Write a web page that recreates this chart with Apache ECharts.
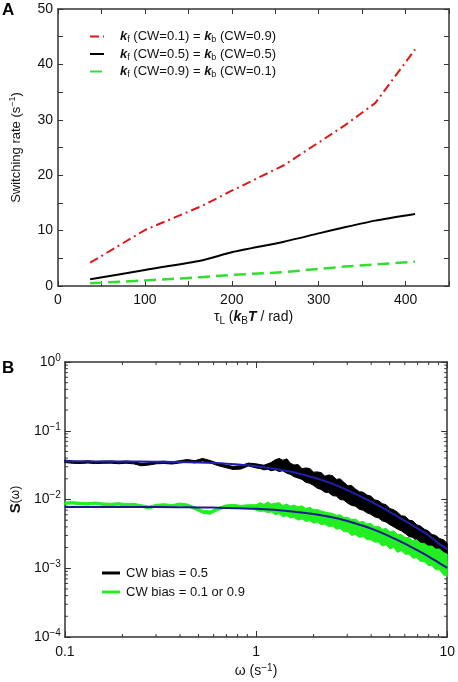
<!DOCTYPE html>
<html><head><meta charset="utf-8">
<script src="https://cdn.jsdelivr.net/npm/echarts@6/dist/echarts.min.js"></script>
<style>html,body{margin:0;padding:0;background:#fff}#c{width:458px;height:682px}</style>
</head><body><div id="c"></div>
<script>
// ---------- Panel A data ----------
const tauL = [37, 100, 165, 200, 260, 300, 330, 365, 411];
const rateRed = [4.2, 10.1, 14.4, 17.2, 21.8, 25.9, 29.0, 33.0, 42.7];
const rateBlack = [1.2, 2.9, 4.6, 6.1, 8.0, 9.5, 10.6, 11.8, 13.0];
const rateGreen = [0.5, 1.0, 1.6, 2.0, 2.5, 3.1, 3.5, 3.9, 4.4];
const namesA = ['kf (CW=0.1) = kb (CW=0.9)', 'kf (CW=0.5) = kb (CW=0.5)', 'kf (CW=0.9) = kb (CW=0.1)'];
const richNamesA = [
  '{bi|k}{sub|f}{n| (CW=0.1) = }{bi|k}{sub|b}{n| (CW=0.9)}',
  '{bi|k}{sub|f}{n| (CW=0.5) = }{bi|k}{sub|b}{n| (CW=0.5)}',
  '{bi|k}{sub|f}{n| (CW=0.9) = }{bi|k}{sub|b}{n| (CW=0.1)}'
];

// ---------- Panel B data ----------
const omega = [0.1,0.11,0.12,0.132,0.145,0.158,0.174,0.191,0.209,0.229,0.251,0.275,0.302,0.331,0.363,0.398,0.437,0.479,0.525,0.575,0.631,0.692,0.759,0.832,0.912,
1.0,1.05,1.1,1.15,1.2,1.26,1.32,1.38,1.45,1.51,1.58,1.66,1.74,1.82,1.91,2.0,2.09,2.19,2.29,2.4,2.51,2.63,2.75,2.88,3.02,3.16,3.31,3.47,3.63,3.8,3.98,4.17,4.37,4.57,4.79,5.01,5.25,5.5,5.75,6.03,6.31,6.61,6.92,7.24,7.59,7.94,8.32,8.71,9.12,9.55,10];
const blackHi = [0.0375,0.0362,0.0360,0.0366,0.0357,0.0362,0.0364,0.0356,0.0363,0.0355,0.0336,0.0343,0.0357,0.0361,0.0353,0.0367,0.0381,0.0367,0.0396,0.0369,0.0338,0.0318,0.0303,0.0311,0.0339,
0.0330,0.0322,0.0315,0.0330,0.0345,0.0378,0.0395,0.0372,0.0390,0.0338,0.0318,0.0322,0.0280,0.0288,0.0282,0.0250,0.0252,0.0246,0.0218,0.0228,0.0222,0.0196,0.0200,0.0178,0.0158,0.0160,0.0142,0.0130,0.0128,0.0116,0.0112,0.0099,0.0096,0.0087,0.0084,0.0074,0.0071,0.0065,0.0058,0.0057,0.0050,0.0049,0.0043,0.0041,0.0037,0.0035,0.0031,0.0030,0.0027,0.0026,0.0023];
const blackLo = [0.0345,0.0336,0.0334,0.0339,0.0333,0.0336,0.0338,0.0331,0.0337,0.0330,0.0309,0.0317,0.0331,0.0334,0.0328,0.0339,0.0351,0.0341,0.0363,0.0341,0.0311,0.0291,0.0273,0.0277,0.0307,
0.0288,0.0282,0.0270,0.0276,0.0262,0.0270,0.0255,0.0262,0.0240,0.0232,0.0215,0.0205,0.0196,0.0178,0.0172,0.0160,0.0146,0.0140,0.0128,0.0126,0.0114,0.0112,0.0100,0.0098,0.0088,0.0082,0.0080,0.0072,0.0070,0.0064,0.0061,0.0056,0.0054,0.0049,0.0047,0.0043,0.0040,0.0037,0.0035,0.0032,0.0029,0.0028,0.0025,0.0024,0.0021,0.0020,0.00178,0.00168,0.00152,0.00142,0.00128];
const greenHi = [0.0092,0.0093,0.0091,0.0090,0.0092,0.0089,0.0088,0.0090,0.0087,0.0088,0.0084,0.0080,0.0085,0.0087,0.0084,0.0089,0.0086,0.0078,0.0070,0.0068,0.0076,0.0083,0.0085,0.0082,0.0084,
0.0084,0.0090,0.0085,0.0092,0.0086,0.0088,0.0090,0.0082,0.0086,0.0080,0.0083,0.0078,0.0081,0.0074,0.0077,0.0071,0.0072,0.0068,0.0066,0.0064,0.0063,0.0059,0.0060,0.0055,0.0055,0.0051,0.0052,0.0047,0.0048,0.0044,0.0045,0.0040,0.0041,0.0037,0.0038,0.0034,0.0035,0.0031,0.0031,0.0028,0.0028,0.0025,0.0026,0.0023,0.0023,0.0021,0.0021,0.0019,0.0019,0.0017,0.0016];
const greenLo = [0.0085,0.0086,0.0084,0.0083,0.0085,0.0082,0.0081,0.0083,0.0080,0.0081,0.0077,0.0073,0.0078,0.0080,0.0077,0.0082,0.0079,0.0071,0.0063,0.0061,0.0069,0.0076,0.0078,0.0075,0.0076,
0.0070,0.0067,0.0068,0.0064,0.0066,0.0060,0.0062,0.0056,0.0058,0.0054,0.0055,0.0050,0.0052,0.0048,0.0049,0.0045,0.0047,0.0043,0.0044,0.0040,0.0041,0.0037,0.0038,0.0034,0.0034,0.0030,0.0031,0.0028,0.0029,0.0026,0.0026,0.0024,0.0024,0.0021,0.0022,0.0019,0.0020,0.0017,0.0018,0.0016,0.0016,0.0014,0.00142,0.00125,0.00125,0.0011,0.0011,0.00095,0.00095,0.0008,0.00076];
const fitOmega = [0.1,0.2,0.3,0.5,0.7,1,1.5,2,2.5,3,4,5,6,7,8,9,10];
const fitBlack = [0.0359,0.0357,0.0354,0.0344,0.0331,0.0305,0.0256,0.0209,0.0170,0.0137,0.0093,0.0066,0.0049,0.0038,0.0030,0.0023,0.0019];
const fitGreen = [0.0078,0.0078,0.0078,0.00767,0.00755,0.00731,0.00677,0.00615,0.0055,0.00486,0.00377,0.00291,0.00228,0.00182,0.00148,0.00121,0.00101];
const namesB = ['CW bias = 0.5', 'CW bias = 0.1 or 0.9'];

// ---------- styling ----------
const F = '"Liberation Sans", Arial, Helvetica, sans-serif';
const TXT = '#111';
const AX = '#333';
const rich = {
  n:{fontFamily:F,fontSize:13,color:TXT,lineHeight:16},
  bi:{fontFamily:F,fontSize:13,fontWeight:'bold',fontStyle:'italic',color:TXT,lineHeight:16},
  b:{fontFamily:F,fontSize:13,fontWeight:'bold',color:TXT,lineHeight:16},
  sub:{fontFamily:F,fontSize:9,color:TXT,lineHeight:9,verticalAlign:'bottom'},
  sup:{fontFamily:F,fontSize:9,color:TXT,lineHeight:9,verticalAlign:'top'},
  N:{fontFamily:F,fontSize:14,color:TXT,lineHeight:17},
  BI:{fontFamily:F,fontSize:14,fontWeight:'bold',fontStyle:'italic',color:TXT,lineHeight:17},
  B:{fontFamily:F,fontSize:15,fontWeight:'bold',color:TXT,lineHeight:17},
  NS:{fontFamily:F,fontSize:12,color:TXT,lineHeight:17},
  SUB:{fontFamily:F,fontSize:10,color:TXT,lineHeight:10,verticalAlign:'bottom'},
  SUP:{fontFamily:F,fontSize:10,color:TXT,lineHeight:10,verticalAlign:'top'},
  t:{fontFamily:F,fontSize:14,color:TXT,lineHeight:18},
  ts:{fontFamily:F,fontSize:10,color:TXT,lineHeight:10,verticalAlign:'top'}
};
const line = {show:true, onZero:false, lineStyle:{color:AX,width:1.5}};
const tick = {show:true, inside:true, length:5, lineStyle:{color:AX,width:1}};
const lbl = {fontFamily:F,fontSize:14,color:TXT};

function bandSeries(name,color,hi,lo){
  return {type:'custom',name:name,xAxisIndex:2,yAxisIndex:2,itemStyle:{color:color},z:3,
    data:omega.map((w,i)=>[w,hi[i],lo[i]]),encode:{x:0,y:[1,2]},
    renderItem:(params,api)=>{
      if(params.dataIndex!==0) return null;
      const pts=[];
      for(let i=0;i<omega.length;i++) pts.push(api.coord([omega[i],hi[i]]));
      for(let i=omega.length-1;i>=0;i--) pts.push(api.coord([omega[i],lo[i]]));
      return {type:'polygon',shape:{points:pts},style:{fill:color,stroke:color,lineWidth:1}};
    }};
}

const chart = echarts.init(document.getElementById('c'));
const option = {
  animation:false,
  backgroundColor:'#fff',
  grid:[
    {left:53, top:9, right:9, bottom:396},
    {left:54, top:362, right:8, bottom:45}
  ],
  xAxis:[
    {gridIndex:0,type:'value',min:0,max:450,interval:50,axisLine:line,axisTick:tick,splitLine:{show:false},
     axisLabel:Object.assign({margin:7,formatter:v=>(v%100===0&&v<=400)?String(v):''},lbl),
     name:'{N|τ}{SUB|L}{N| (}{BI|k}{SUB|B}{BI|T}{N| / rad)}',nameLocation:'middle',nameGap:23,nameTextStyle:{rich:rich}},
    {gridIndex:0,type:'value',position:'top',min:0,max:450,interval:50,axisLine:line,axisTick:tick,splitLine:{show:false},axisLabel:{show:false}},
    {gridIndex:1,type:'log',logBase:10,min:0.1,max:10,position:'bottom',axisLine:line,axisTick:Object.assign({},tick,{length:6}),splitLine:{show:false},
     axisLabel:Object.assign({margin:8,formatter:v=>{const e=Math.round(Math.log10(v));return e===-1?'0.1':(e===0?'1':'10');}},lbl),
     name:'{N|ω (s}{SUP|−1}{N|)}',nameLocation:'middle',nameGap:26,nameTextStyle:{rich:rich}},
    {gridIndex:1,type:'log',logBase:10,min:0.1,max:10,position:'top',axisLine:line,axisTick:Object.assign({},tick,{length:6}),splitLine:{show:false},axisLabel:{show:false}}
  ],
  yAxis:[
    {gridIndex:0,type:'value',min:0,max:50,interval:10,axisLine:line,axisTick:tick,minorTick:{show:true,splitNumber:2,length:5,lineStyle:{color:AX}},splitLine:{show:false},
     axisLabel:Object.assign({margin:5},lbl),
     name:'{n|Switching rate (s}{sup|−1}{n|)}',nameLocation:'middle',nameGap:34,nameTextStyle:{rich:rich}},
    {gridIndex:0,type:'value',position:'right',min:0,max:50,interval:10,axisLine:line,axisTick:tick,minorTick:{show:true,splitNumber:2,length:5,lineStyle:{color:AX}},splitLine:{show:false},axisLabel:{show:false}},
    {gridIndex:1,type:'log',logBase:10,min:0.0001,max:1,position:'left',axisLine:line,axisTick:Object.assign({},tick,{length:6}),splitLine:{show:false},
     axisLabel:{margin:4,formatter:v=>{const e=Math.round(Math.log10(v));return '{t|10}{ts|'+(e<0?'−'+(-e):String(e))+'}';},rich:rich},
     name:'{B|S}{NS|(ω)}',nameLocation:'middle',nameGap:39,nameTextStyle:{rich:rich}},
    {gridIndex:1,type:'log',logBase:10,min:0.0001,max:1,position:'right',axisLine:line,axisTick:Object.assign({},tick,{length:6}),splitLine:{show:false},axisLabel:{show:false}}
  ],
  legend:[
    {orient:'vertical',left:84,top:25,itemWidth:14,itemHeight:14,itemGap:3,data:namesA,
     itemStyle:{opacity:0,borderWidth:0},
     textStyle:{rich:rich,padding:[0,0,0,11]},formatter:name=>richNamesA[namesA.indexOf(name)],selectedMode:false},
    {orient:'vertical',left:97,top:560,itemWidth:18,itemHeight:3,itemGap:3,
     data:[{name:namesB[0],icon:'rect'},{name:namesB[1],icon:'rect'}],
     textStyle:{fontFamily:F,fontSize:13,color:TXT,lineHeight:16,padding:[0,0,0,1]},selectedMode:false}
  ],
  graphic:[
    {type:'text',left:2,top:2,style:{text:'A',fontFamily:F,fontSize:17,fontWeight:'bold',fill:'#000'}},
    {type:'text',left:2,top:360,style:{text:'B',fontFamily:F,fontSize:17,fontWeight:'bold',fill:'#000'}}
  ],
  series:[
    {name:namesA[0],type:'line',xAxisIndex:0,yAxisIndex:0,showSymbol:false,symbol:'none',
     data:tauL.map((t,i)=>[t,rateRed[i]]),lineStyle:{color:'#dd1a1a',width:2,type:[9,4,2,4]},itemStyle:{color:'#dd1a1a'}},
    {name:namesA[1],type:'line',xAxisIndex:0,yAxisIndex:0,showSymbol:false,symbol:'none',smooth:0.2,
     data:tauL.map((t,i)=>[t,rateBlack[i]]),lineStyle:{color:'#000',width:2},itemStyle:{color:'#000'}},
    {name:namesA[2],type:'line',xAxisIndex:0,yAxisIndex:0,showSymbol:false,symbol:'none',
     data:tauL.map((t,i)=>[t,rateGreen[i]]),lineStyle:{color:'#33dd33',width:2.5,type:[12,6]},itemStyle:{color:'#33dd33'}},
    bandSeries(namesB[0],'#000',blackHi,blackLo),
    bandSeries(namesB[1],'#22ee22',greenHi,greenLo),
    {type:'line',xAxisIndex:2,yAxisIndex:2,showSymbol:false,symbol:'none',smooth:0.3,z:5,
     data:fitOmega.map((w,i)=>[w,fitBlack[i]]),lineStyle:{color:'#2020a8',width:2}},
    {type:'line',xAxisIndex:2,yAxisIndex:2,showSymbol:false,symbol:'none',smooth:0.3,z:5,
     data:fitOmega.map((w,i)=>[w,fitGreen[i]]),lineStyle:{color:'#1a1a90',width:2}}
  ]
};
chart.setOption(option);

// minor log ticks for panel B (positions from the library's own log scales)
const g = [];
const minorX = [], minorY = [];
[0.1,1].forEach(d=>{for(let k=2;k<=9;k++) minorX.push(d*k);});
[0.0001,0.001,0.01,0.1].forEach(d=>{for(let k=2;k<=9;k++) minorY.push(d*k);});
const yb = chart.convertToPixel({yAxisIndex:2},0.0001), yt = chart.convertToPixel({yAxisIndex:2},1);
const xl = chart.convertToPixel({xAxisIndex:2},0.1), xr = chart.convertToPixel({xAxisIndex:2},10);
minorX.forEach(v=>{
  const x = chart.convertToPixel({xAxisIndex:2},v);
  g.push({type:'line',shape:{x1:x,y1:yb,x2:x,y2:yb-3},style:{stroke:AX,lineWidth:1},silent:true});
  g.push({type:'line',shape:{x1:x,y1:yt,x2:x,y2:yt+3},style:{stroke:AX,lineWidth:1},silent:true});
});
minorY.forEach(v=>{
  const y = chart.convertToPixel({yAxisIndex:2},v);
  g.push({type:'line',shape:{x1:xl,y1:y,x2:xl+3,y2:y},style:{stroke:AX,lineWidth:1},silent:true});
  g.push({type:'line',shape:{x1:xr,y1:y,x2:xr-3,y2:y},style:{stroke:AX,lineWidth:1},silent:true});
});
chart.setOption({graphic:option.graphic.concat(g)});
</script>
</body></html>
